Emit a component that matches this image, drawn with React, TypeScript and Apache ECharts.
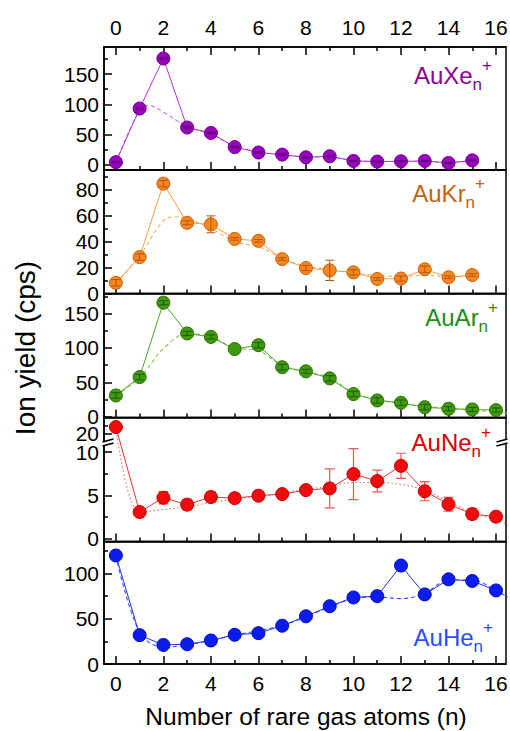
import React, { useEffect, useRef } from 'react';
import * as echarts from 'echarts';

// ---------- data ----------
const nValues = [0, 1, 2, 3, 4, 5, 6, 7, 8, 9, 10, 11, 12, 13, 14, 15, 16];
const xTickMajor = [0, 2, 4, 6, 8, 10, 12, 14, 16];
const xTickMinor = [1, 3, 5, 7, 9, 11, 13, 15];

const xeYield = [4, 93, 176, 61.5, 52.5, 29, 20, 16.5, 12, 13.8, 6, 5, 5.5, 6, 2.7, 7];
const xeErr = [1, 1, 1, 1, 1, 1, 1, 1, 1, 1, 1, 1, 1, 1, 1, 1];
const xeFitN = [0, 1, 1.4, 2, 3, 4, 5, 6, 7, 8, 9, 10, 11, 12, 13, 14, 15];
const xeFitYield = [4, 90, 98, 87, 63, 50, 31, 21, 16, 13, 12, 7, 5, 5, 5, 4, 6];

const krYield = [8.2, 28, 84.5, 54.4, 53.2, 42, 40.5, 26.5, 19.6, 17.8, 16.3, 11.2, 11.5, 18.6, 12.5, 14.2];
const krErr = [2.5, 2.5, 2.5, 1.5, 6.5, 1, 1, 1, 2, 7.8, 2, 1, 2, 2.5, 1, 1];
const krFitN = [0, 1, 2, 2.5, 3, 4, 5, 6, 7, 8, 9, 10, 11, 12, 13, 14, 15];
const krFitYield = [8, 29, 56, 59, 57.5, 50, 40, 36, 27, 21, 18.5, 15.5, 14, 13, 14, 13, 13];

const arYield = [31, 57.7, 165.7, 121, 116, 98.4, 104, 72, 66, 55.8, 33, 23.8, 20.4, 14, 11.7, 10.7, 9.7];
const arErr = [4, 4, 3, 3, 3, 0, 4, 4, 3, 4, 4, 4, 4, 4, 3, 3, 3];
const arFitN = [0, 1, 2, 3, 4, 5, 6, 7, 8, 9, 10, 11, 12, 13, 14, 15, 16, 17];
const arFitYield = [31, 57, 99, 121, 116, 100, 96, 75, 65, 57, 35, 25, 19, 15, 12.6, 9.7, 7, 3];

const neYield = [20.8, 3.1, 4.75, 3.95, 4.83, 4.7, 4.98, 5.17, 5.63, 5.82, 7.47, 6.67, 8.43, 5.5, 4.0, 2.87, 2.56];
const neErr = [0, 0.3, 0.7, 0.6, 0.6, 0.5, 0.4, 0.4, 0.4, 2.25, 2.95, 1.25, 1.45, 1.1, 0.8, 0.6, 0.5];
const neFitN = [0, 1, 2, 3, 4, 5, 6, 7, 8, 9, 10, 11, 12, 13, 14, 15, 16, 17];
const neFitYield = [20.8, 3.1, 3.4, 3.7, 4.2, 4.6, 4.9, 5.3, 5.7, 6.1, 6.5, 6.5, 6.3, 5.6, 4.3, 3.0, 2.2, 1.0];

const heYield = [119.6, 31.8, 21, 21.8, 25.9, 32.2, 34, 42.2, 52.6, 63.7, 73.3, 74.8, 108.5, 76.7, 93.3, 91.5, 81.1];
const heErr = [0, 0, 0, 0, 0, 0, 0, 0, 0, 0, 0, 0, 0, 0, 0, 0, 0];
const heFitN = [0, 1, 2, 3, 4, 5, 6, 7, 8, 9, 10, 11, 12, 13, 14, 15, 16, 17];
const heFitYield = [119, 35, 18.5, 21, 26, 32, 36.7, 42.6, 52, 63, 72, 74, 72, 77.8, 92.6, 92.6, 81, 66];

const xeTicks = [0, 50, 100, 150];
const xeMinor = [25, 75, 125, 175];
const krTicks = [0, 20, 40, 60, 80];
const krMinor = [10, 30, 50, 70, 90];
const arTicks = [0, 50, 100, 150];
const arMinor = [25, 75, 125, 175];
const neTicks = [0, 5, 10, 20];
const neLowerLabels = [0, 5, 10];
const neUpperLabels = [20];
const neMinor = [2.5, 7.5, 21];
const heTicks = [0, 50, 100];
const heMinor = [25, 75, 125];

const xAxisTitle = 'Number of rare gas atoms (n)';
const yAxisTitle = 'Ion yield (cps)';

// ---------- layout / style ----------
const FONT = '"Liberation Sans", Arial, Helvetica, sans-serif';
const LEFT = 104;
const WIDTH = 402;
const X_MIN = -0.5;
const X_MAX = 16.42;
const TICK_FONT = 21;

const panels: any[] = [
  {
    el: 'Xe', yields: xeYield, err: xeErr, fitN: xeFitN, fitY: xeFitYield,
    top: 47, height: 123, min: -9, max: 195, major: xeTicks, labels: xeTicks, minor: xeMinor,
    fill: '#9a00bf', border: '#6e008c', line: '#b535d8', fit: '#c768e4', errColor: '#5a0070',
    text: '#8c0096', labelTop: 57, labelRight: 18, fitDash: [4, 3], errBehind: false,
  },
  {
    el: 'Kr', yields: krYield, err: krErr, fitN: krFitN, fitY: krFitYield,
    top: 170, height: 123.5, min: 0, max: 95, major: krTicks, labels: krTicks, minor: krMinor,
    fill: '#f7861f', border: '#c2600c', line: '#ff9b42', fit: '#ffad5c', errColor: '#b8560a',
    text: '#c4640f', labelTop: 175, labelRight: 25, fitDash: [4, 3], errBehind: false,
  },
  {
    el: 'Ar', yields: arYield, err: arErr, fitN: arFitN, fitY: arFitYield,
    top: 293.5, height: 124, min: -1, max: 179, major: arTicks, labels: arTicks, minor: arMinor,
    fill: '#3e9b0c', border: '#286c00', line: '#4aa81a', fit: '#86c64e', errColor: '#1f5a00',
    text: '#1e8c14', labelTop: 299, labelRight: 12, fitDash: [4, 3], errBehind: false,
  },
  {
    el: 'Ne', yields: neYield, err: neErr, fitN: neFitN, fitY: neFitYield,
    top: 417.5, height: 124, min: -0.3, max: 21.9, major: neTicks, labels: neLowerLabels,
    extraLabels: neUpperLabels, minor: neMinor,
    fill: '#ee0c0c', border: '#c80000', line: '#f03434', fit: '#f06a6a', errColor: '#e45a5a',
    text: '#d40000', labelTop: 424, labelRight: 19, fitDash: [1.5, 2.5], errBehind: true,
    breaks: [{ start: 11.15, end: 19.05, gap: 0 }],
  },
  {
    el: 'He', yields: heYield, err: heErr, fitN: heFitN, fitY: heFitYield,
    top: 541.5, height: 122.5, min: 0, max: 135, major: heTicks, labels: heTicks, minor: heMinor,
    fill: '#0b1ced', border: '#0010c0', line: '#2232f0', fit: '#3454ff', errColor: '#0010c0',
    text: '#2a4dff', labelTop: 619, labelRight: 17, fitDash: [4, 3], errBehind: false,
  },
];

function errorBarRenderer(color: string, capHalf: number, width: number) {
  return (_params: any, api: any) => {
    const x = api.value(0);
    const y = api.value(1);
    const e = api.value(2);
    if (!e) return { type: 'group', children: [] };
    const hi = api.coord([x, y + e]);
    const lo = api.coord([x, y - e]);
    const st = { stroke: color, lineWidth: width };
    return {
      type: 'group',
      children: [
        { type: 'line', shape: { x1: hi[0], y1: hi[1], x2: lo[0], y2: lo[1] }, style: st },
        { type: 'line', shape: { x1: hi[0] - capHalf, y1: hi[1], x2: hi[0] + capHalf, y2: hi[1] }, style: st },
        { type: 'line', shape: { x1: lo[0] - capHalf, y1: lo[1], x2: lo[0] + capHalf, y2: lo[1] }, style: st },
      ],
    };
  };
}

function breakMark(cx: number, cy: number) {
  const h = 5.5;
  return [
    {
      type: 'polygon', z: 100,
      shape: { points: [[cx - h, cy + 0.5], [cx + h, cy - 2.5], [cx + h, cy + 1.5], [cx - h, cy + 4.5]] },
      style: { fill: '#fff' },
    },
    { type: 'line', z: 101, shape: { x1: cx - h, y1: cy + 0.5, x2: cx + h, y2: cy - 2.5 }, style: { stroke: '#000', lineWidth: 1.8 } },
    { type: 'line', z: 101, shape: { x1: cx - h, y1: cy + 4.5, x2: cx + h, y2: cy + 1.5 }, style: { stroke: '#000', lineWidth: 1.8 } },
  ];
}

function buildOption() {
  const grid: any[] = [];
  const xAxis: any[] = [];
  const yAxis: any[] = [];
  const series: any[] = [];
  const graphic: any[] = [];

  panels.forEach((p, i) => {
    grid.push({
      left: LEFT, width: WIDTH, top: p.top, height: p.height,
      show: true, borderColor: '#000', borderWidth: 1.5, backgroundColor: 'transparent',
      containLabel: false, outerBoundsMode: 'none',
    });
    const xBase = {
      gridIndex: i, type: 'value', min: X_MIN, max: X_MAX,
      splitLine: { show: false },
    };
    const xLabel = {
      customValues: xTickMajor, margin: 9, fontSize: TICK_FONT, color: '#000', fontFamily: FONT,
      showMinLabel: true, showMaxLabel: true, hideOverlap: false,
    };
    xAxis.push({
      ...xBase, position: 'bottom',
      axisLine: { show: true, onZero: false, lineStyle: { color: '#000', width: 1.5 } },
      axisTick: { show: true, inside: true, length: 8, customValues: xTickMajor, lineStyle: { color: '#000', width: 1.5 } },
      axisLabel: { ...xLabel, show: i === panels.length - 1 },
    });
    xAxis.push({
      ...xBase, position: 'bottom',
      axisLine: { show: false, onZero: false },
      axisTick: { show: true, inside: true, length: 4, customValues: xTickMinor, lineStyle: { color: '#000', width: 1.5 } },
      axisLabel: { show: false },
    });
    if (i === 0) {
      xAxis.push({
        ...xBase, position: 'top',
        axisLine: { show: true, onZero: false, lineStyle: { color: '#000', width: 1.5 } },
        axisTick: { show: true, inside: true, length: 8, customValues: xTickMajor, lineStyle: { color: '#000', width: 1.5 } },
        axisLabel: { ...xLabel, show: true },
      });
      xAxis.push({
        ...xBase, position: 'top',
        axisLine: { show: false, onZero: false },
        axisTick: { show: true, inside: true, length: 4, customValues: xTickMinor, lineStyle: { color: '#000', width: 1.5 } },
        axisLabel: { show: false },
      });
    }
    const xIdx = i === 0 ? 0 : 2 + i * 2;
    const yBase: any = {
      gridIndex: i, type: 'value', min: p.min, max: p.max, position: 'left',
      splitLine: { show: false },
    };
    if (p.breaks) {
      yBase.breaks = p.breaks;
      yBase.breakArea = { show: false, itemStyle: { opacity: 0 } };
      yBase.breakLabelLayout = { moveOverlap: false };
    }
    const yLabel = {
      margin: 5, fontSize: TICK_FONT, color: '#000', fontFamily: FONT,
      showMinLabel: true, showMaxLabel: true, hideOverlap: false,
    };
    yAxis.push({
      ...yBase,
      axisLine: { show: true, onZero: false, lineStyle: { color: '#000', width: 1.5 } },
      axisTick: { show: true, inside: true, length: 8, customValues: p.major, lineStyle: { color: '#000', width: 1.5 } },
      axisLabel: { ...yLabel, show: true, customValues: p.labels },
    });
    yAxis.push({
      ...yBase,
      axisLine: { show: false, onZero: false },
      axisTick: { show: true, inside: true, length: 4, customValues: p.minor, lineStyle: { color: '#000', width: 1.5 } },
      axisLabel: p.extraLabels ? { ...yLabel, show: true, customValues: p.extraLabels } : { show: false },
    });
    const yIdx = i * 2;
    const nn = nValues.slice(0, p.yields.length);

    series.push({
      type: 'line', xAxisIndex: xIdx, yAxisIndex: yIdx, z: 1,
      data: p.fitN.map((x: number, k: number) => [x, p.fitY[k]]),
      smooth: 0.35, symbol: 'none', showSymbol: false, clip: true,
      lineStyle: { color: p.fit, width: 1.1, type: p.fitDash },
      silent: true,
    });
    series.push({
      type: 'custom', xAxisIndex: xIdx, yAxisIndex: yIdx, z: p.errBehind ? 1 : 4,
      data: nn.map((x, k) => [x, p.yields[k], p.err[k]]),
      encode: { x: 0, y: 1 },
      renderItem: errorBarRenderer(p.errColor, p.errBehind ? 5 : 4.5, p.errBehind ? 1.2 : 1),
      clip: true, silent: true,
    });
    series.push({
      type: 'line', xAxisIndex: xIdx, yAxisIndex: yIdx, z: 3,
      data: nn.map((x, k) => [x, p.yields[k]]),
      symbol: 'circle', symbolSize: 13, showAllSymbol: true, clip: false,
      itemStyle: { color: p.fill, borderColor: p.border, borderWidth: 1 },
      lineStyle: { color: p.line, width: 1 },
      silent: true,
    });

    graphic.push({
      type: 'text', right: p.labelRight, top: p.labelTop, z: 50,
      style: {
        text: `{a|Au${p.el}}{s|n}{p|+}`,
        rich: {
          a: { fontSize: 24, lineHeight: 36, fill: p.text, fontFamily: FONT, verticalAlign: 'middle' },
          s: { fontSize: 17, lineHeight: 17, fill: p.text, fontFamily: FONT, verticalAlign: 'bottom' },
          p: { fontSize: 17, lineHeight: 17, fill: p.text, fontFamily: FONT, verticalAlign: 'top' },
        },
      },
    });
  });

  graphic.push(...breakMark(108, 441.5));
  graphic.push(...breakMark(502, 441.5));

  graphic.push({
    type: 'text', x: 25, y: 348, rotation: Math.PI / 2, z: 50,
    style: { text: yAxisTitle, fontSize: 28, fill: '#000', fontFamily: FONT, textAlign: 'center', textVerticalAlign: 'middle' },
  });
  graphic.push({
    type: 'text', x: 306, y: 716, z: 50,
    style: { text: xAxisTitle, fontSize: 24.5, fill: '#000', fontFamily: FONT, textAlign: 'center', textVerticalAlign: 'middle' },
  });

  return {
    animation: false,
    backgroundColor: '#fff',
    textStyle: { fontFamily: FONT },
    grid, xAxis, yAxis, series, graphic,
  };
}

export default function App() {
  const ref = useRef<HTMLDivElement>(null);
  useEffect(() => {
    if (!ref.current) return;
    const chart = echarts.init(ref.current, null, { renderer: 'svg' });
    chart.setOption(buildOption() as any);
    return () => chart.dispose();
  }, []);
  return (
    <div
      ref={ref}
      style={{ position: 'fixed', left: 0, top: 0, width: 510, height: 731, background: '#fff' }}
    />
  );
}
